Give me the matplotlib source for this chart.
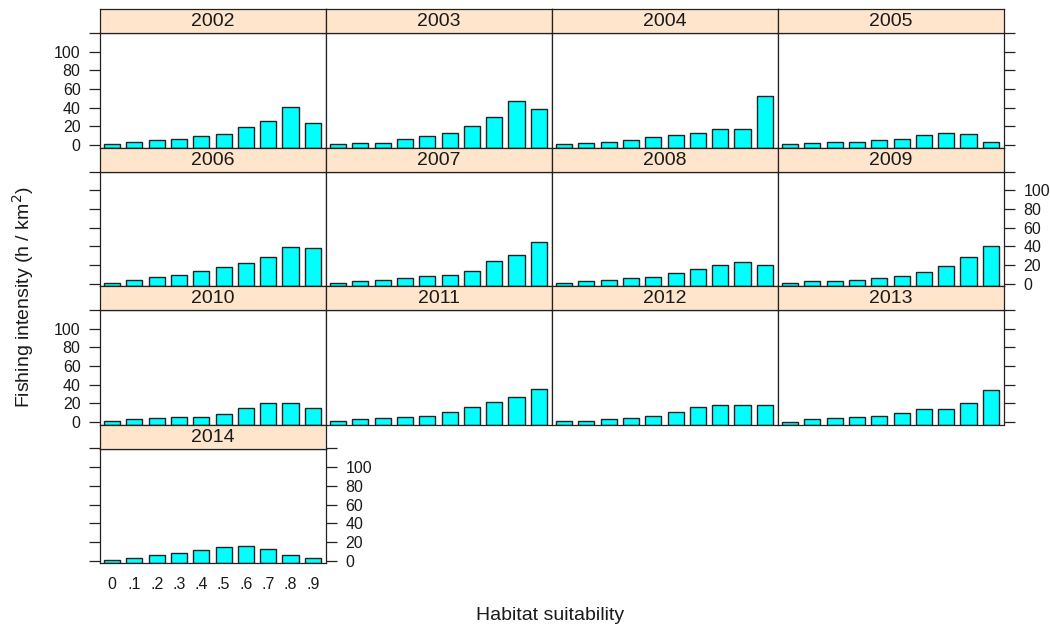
import numpy as np
import matplotlib.pyplot as plt
from matplotlib.patches import Rectangle

plt.rcParams['font.family'] = ['Liberation Sans', 'DejaVu Sans']

# habitat suitability classes
classi = ['0', '.1', '.2', '.3', '.4', '.5', '.6', '.7', '.8', '.9']

# fishing intensity (h/km2) per year
anni = ['2002', '2003', '2004', '2005', '2006', '2007', '2008', '2009',
        '2010', '2011', '2012', '2013', '2014']
v2002 = [1.4, 3.9, 5.7, 7.1, 9.6, 12.1, 18.9, 25.6, 40.6, 23.8]
v2003 = [1.4, 2.5, 2.5, 7.1, 9.6, 13.5, 20.3, 29.9, 47.3, 39.1]
v2004 = [1.4, 2.5, 3.9, 5.7, 8.2, 10.7, 13.5, 17.8, 17.8, 52.3]
v2005 = [1.4, 2.5, 3.9, 3.9, 5.7, 7.1, 10.7, 13.5, 12.1, 3.9]
v2006 = [1.1, 4.3, 7.1, 9.6, 13.9, 17.9, 21.8, 28.6, 39.3, 37.9]
v2007 = [1.1, 2.9, 4.3, 5.7, 8.2, 9.6, 13.9, 24.6, 31.1, 44.6]
v2008 = [1.1, 2.9, 4.3, 5.7, 7.1, 11.1, 15.4, 20.4, 23.2, 20.4]
v2009 = [1.1, 2.9, 2.9, 4.3, 5.7, 8.2, 12.5, 19.3, 28.6, 40.7]
v2010 = [1.4, 2.9, 4.3, 5.8, 5.8, 8.3, 15.1, 20.1, 20.1, 15.1]
v2011 = [1.4, 2.9, 4.3, 5.8, 6.8, 11.2, 16.5, 21.9, 27.3, 35.6]
v2012 = [1.4, 1.4, 2.9, 4.3, 6.8, 11.2, 16.5, 18.0, 18.0, 18.0]
v2013 = [0.5, 2.9, 4.3, 5.8, 6.8, 9.7, 14.0, 14.0, 20.5, 34.2]
v2014 = [0.4, 3.2, 5.7, 8.6, 11.4, 14.3, 15.7, 12.9, 5.7, 3.2]
valori = [v2002, v2003, v2004, v2005, v2006, v2007, v2008, v2009,
          v2010, v2011, v2012, v2013, v2014]

W, H = 1050, 628
fig = plt.figure(figsize=(W / 100, H / 100), dpi=100)

x0, pw = 100, 226      # left edge and width of a panel (px)
y0, rh = 9, 138.5      # top of first strip and row height (px)
sh = 24                # strip height
ylim = (-2.5, 120)
yt = [0, 20, 40, 60, 80, 100, 120]
ytl = ['0', '20', '40', '60', '80', '100', '']
col_linea = '#222222'
col_testo = '#1a1a1a'
x = np.arange(1, 11)

for i, (anno, v) in enumerate(zip(anni, valori)):
    r, c = divmod(i, 4)
    ultima = (c == 3) or (i == len(anni) - 1)
    top = y0 + r * rh
    ybot = top + rh
    ax = fig.add_axes([(x0 + c * pw) / W, 1 - ybot / H, pw / W, (rh - sh) / H])
    st = fig.add_axes([(x0 + c * pw) / W, 1 - (top + sh) / H, pw / W, sh / H])

    # strip con l'anno
    st.set_xlim(0, 1)
    st.set_ylim(0, 1)
    st.add_patch(Rectangle((0, 0), 1, 1, facecolor='#FFE5CC', edgecolor='none'))
    st.text(0.5, 0.47, anno, ha='center', va='center', fontsize=14, color=col_testo)
    st.set_xticks([])
    st.set_yticks([])
    for s in st.spines.values():
        s.set_color(col_linea)
        s.set_linewidth(0.9)

    # barre che partono dal limite inferiore del pannello
    ax.bar(x, np.array(v) - ylim[0], bottom=ylim[0], width=0.72,
           color='#00FFFF', edgecolor=col_linea, linewidth=1.0)
    ax.set_xlim(0.46, 10.59)
    ax.set_ylim(*ylim)
    for s in ax.spines.values():
        s.set_color(col_linea)
        s.set_linewidth(0.9)

    sinistra = (c == 0)
    etich_sx = sinistra and (r % 2 == 0)
    etich_dx = ultima and (r % 2 == 1)
    ax.set_yticks(yt)
    ax.set_yticklabels(ytl)
    ax.tick_params(axis='y', which='both', direction='out', length=8, width=0.9,
                   color=col_linea, labelsize=11.5, labelcolor=col_testo, pad=6,
                   left=sinistra, right=ultima,
                   labelleft=etich_sx, labelright=etich_dx)

    if i == len(anni) - 1:
        ax.set_xticks(x)
        ax.set_xticklabels(classi)
        ax.tick_params(axis='x', length=0, labelsize=11.5, labelcolor=col_testo, pad=10)
    else:
        ax.set_xticks([])

fig.text(550 / W, 1 - 616 / H, 'Habitat suitability', ha='center', va='center',
         fontsize=14, color=col_testo)
fig.text(23 / W, 1 - 297 / H, r'Fishing intensity (h / km$^2$)', ha='center', va='center',
         rotation=90, fontsize=14, color=col_testo)

fig.savefig('out.png', dpi=100)
